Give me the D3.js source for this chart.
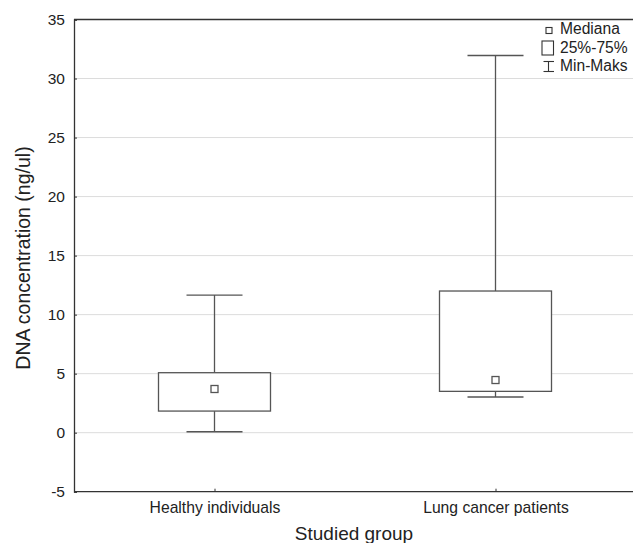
<!DOCTYPE html>
<html><head><meta charset="utf-8">
<script src="https://cdn.jsdelivr.net/npm/d3@7"></script>
<style>body{margin:0;background:#fff}text{font-family:"Liberation Sans",Arial,sans-serif;fill:#222}</style>
</head><body><svg id="c" width="633" height="543"></svg>
<script>
const categories = ["Healthy individuals", "Lung cancer patients"];
const minVals = [0.08, 3.02];
const q1Vals = [1.83, 3.5];
const medianVals = [3.7, 4.46];
const q3Vals = [5.08, 12.0];
const maxVals = [11.66, 31.95];
const yTicks = [-5, 0, 5, 10, 15, 20, 25, 30, 35];
const legendLabels = ["Mediana", "25%-75%", "Min-Maks"];

const svg = d3.select("#c");
const L = 74, R = 636, T = 19.5, B = 491.7;
const x = d3.scalePoint().domain(categories).range([L, R]).padding(0.5);
const y = d3.scaleLinear().domain([-5, 35]).range([B, T]);
const stroke = "#555";

// gridlines
svg.append("g").selectAll("line").data(yTicks.filter(t => t > -5 && t < 35)).join("line")
  .attr("x1", L).attr("x2", 633).attr("y1", d => y(d)).attr("y2", d => y(d))
  .attr("stroke", "#dcdcdc").attr("stroke-width", 1);

// axes
const ya = svg.append("g").attr("transform", `translate(${L},0)`)
  .call(d3.axisLeft(y).tickValues(yTicks).tickSize(-3).tickPadding(9).tickFormat(d => String(d)));
ya.select(".domain").attr("stroke", "#333").attr("stroke-width", 1.3);
ya.selectAll(".tick line").attr("stroke", "#333");
ya.selectAll("text").style("font-size", "15.5px").attr("fill", "#222");

svg.append("line").attr("x1", L).attr("x2", 633).attr("y1", T).attr("y2", T).attr("stroke", "#333").attr("stroke-width", 1.3);

const xa = svg.append("g").attr("transform", `translate(0,${B})`)
  .call(d3.axisBottom(x).tickSize(-3).tickPadding(10));
xa.select(".domain").attr("d", `M${L},0H633`).attr("stroke", "#333").attr("stroke-width", 1.3);
xa.selectAll(".tick line").attr("stroke", "#333");
xa.selectAll("text").style("font-size", "15.7px").attr("fill", "#222");

// boxes
const bw = 112, cw = 56;
const g = svg.append("g");
categories.forEach((c, i) => {
  const cx = x(c);
  g.append("line").attr("x1", cx).attr("x2", cx).attr("y1", y(maxVals[i])).attr("y2", y(q3Vals[i])).attr("stroke", stroke).attr("stroke-width", 1.3);
  g.append("line").attr("x1", cx).attr("x2", cx).attr("y1", y(q1Vals[i])).attr("y2", y(minVals[i])).attr("stroke", stroke).attr("stroke-width", 1.3);
  g.append("line").attr("x1", cx - cw/2).attr("x2", cx + cw/2).attr("y1", y(maxVals[i])).attr("y2", y(maxVals[i])).attr("stroke", stroke).attr("stroke-width", 1.3);
  g.append("line").attr("x1", cx - cw/2).attr("x2", cx + cw/2).attr("y1", y(minVals[i])).attr("y2", y(minVals[i])).attr("stroke", stroke).attr("stroke-width", 1.3);
  g.append("rect").attr("x", cx - bw/2).attr("y", y(q3Vals[i])).attr("width", bw).attr("height", y(q1Vals[i]) - y(q3Vals[i]))
    .attr("fill", "#fff").attr("stroke", stroke).attr("stroke-width", 1.3);
  g.append("rect").attr("x", cx - 3.5).attr("y", y(medianVals[i]) - 3.5).attr("width", 7).attr("height", 7)
    .attr("fill", "#fff").attr("stroke", stroke).attr("stroke-width", 1.3);
});

// legend
const lg = svg.append("g");
lg.append("rect").attr("x", 546).attr("y", 27.5).attr("width", 6).attr("height", 6).attr("fill", "#fff").attr("stroke", "#333").attr("stroke-width", 1.1);
lg.append("rect").attr("x", 542).attr("y", 41).attr("width", 11.5).attr("height", 14).attr("fill", "#fff").attr("stroke", "#333").attr("stroke-width", 1.1);
lg.append("line").attr("x1", 548.5).attr("x2", 548.5).attr("y1", 61.5).attr("y2", 71.5).attr("stroke", "#333").attr("stroke-width", 1.1);
lg.append("line").attr("x1", 543.5).attr("x2", 554).attr("y1", 61.5).attr("y2", 61.5).attr("stroke", "#333").attr("stroke-width", 1.1);
lg.append("line").attr("x1", 543.5).attr("x2", 554).attr("y1", 71.5).attr("y2", 71.5).attr("stroke", "#333").attr("stroke-width", 1.1);
const legendY = [33.5, 52.5, 70.5];
lg.selectAll("text").data(legendLabels).join("text")
  .attr("x", 560).attr("y", (d, i) => legendY[i]).style("font-size", "15.6px").text(d => d);

// titles
svg.append("text").attr("transform", `translate(30,258) rotate(-90)`).attr("text-anchor", "middle")
  .style("font-size", "19.5px").text("DNA concentration (ng/ul)");
svg.append("text").attr("x", 354).attr("y", 540).attr("text-anchor", "middle").style("font-size", "19px").text("Studied group");
</script></body></html>
